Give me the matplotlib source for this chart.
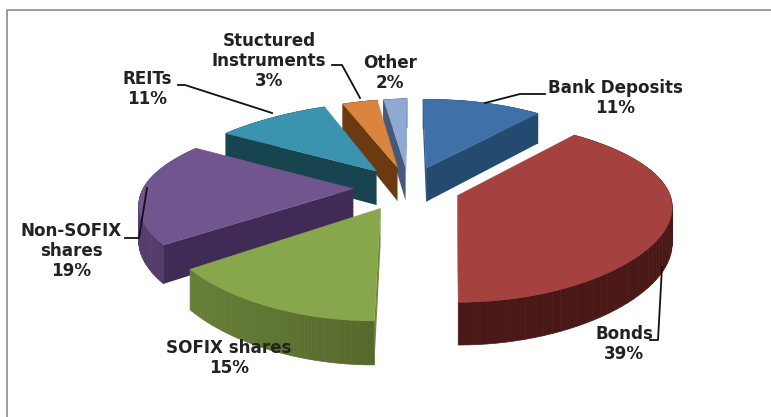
import numpy as np
import matplotlib
matplotlib.use('Agg')
import matplotlib.pyplot as plt
from matplotlib.colors import to_rgb

labels = ['Bank Deposits\n11%', 'Bonds\n39%', 'SOFIX shares\n15%', 'Non-SOFIX\nshares\n19%',
          'REITs\n11%', 'Stuctured\nInstruments\n3%', 'Other\n2%']
values = [11, 39, 15, 19, 11, 3, 2]
top_colors = ['#3F70A8', '#A5413F', '#88A64C', '#71558F', '#3A94B0', '#DB843D', '#8FA9D2']
side_colors = ['#244A70', '#4A1917', '#55692C', '#3F2B55', '#17444F', '#6B3A10', '#45597A']
label_pos = [(615, 98), (624, 344), (229, 358), (71, 251), (147, 89), (269, 61), (390, 73)]
leaders = [[(545, 94), (520, 94), (485, 103)],
           [(662, 267), (658, 340), (650, 340)],
           [],
           [(147, 188), (139, 238), (125, 238)],
           [(178, 85), (185, 85), (272, 113)],
           [(332, 65), (342, 65), (360, 98)],
           []]

# pie geometry, in pixels of the picture
cx, cy = 407, 188
radius = 210
tilt = 0.41
explode = 0.255
persp = 0.167
vp_x = 450
depth = 35


def project(ang, r, mid):
    # ang clockwise from the top, exploded along mid
    # the back left of the original is pulled round a little
    d = np.degrees(ang)
    d = np.where(d < 90, d + 360, d)
    ang = ang - np.radians(6) * np.exp(-((d - 335) / 30) ** 2)
    X = r * np.sin(ang) + explode * np.sin(mid)
    Y = r * np.cos(ang) + explode * np.cos(mid)
    s = 1 / (1 + persp * Y)
    sx = 1 - 0.15 * Y - 0.04 * Y ** 2
    x = vp_x + (cx + radius * X - vp_x) * sx
    y = cy - radius * tilt * Y * s
    return x, y, s


def mix(a, b, f):
    a, b = np.array(to_rgb(a)), np.array(to_rgb(b))
    return tuple(a + (b - a) * f)


fig = plt.figure(figsize=(7.71, 4.17), dpi=100)
ax = fig.add_axes([0, 0, 1, 1])
ax.set_xlim(0, 771)
ax.set_ylim(417, 0)
ax.axis('off')

# frame
ax.plot([7, 7, 771], [417, 10, 10], color='#8c8c8c', lw=1.2)

edges = np.cumsum([0] + values) / sum(values) * 2 * np.pi
slices = []
for i in range(len(values)):
    slices.append((edges[i], edges[i + 1], i))
# back slices first
slices.sort(key=lambda t: -np.cos((t[0] + t[1]) / 2))

for a0, a1, i in slices:
    mid = (a0 + a1) / 2
    arc = np.linspace(a0, a1, 60)
    ax_, ay_, as_ = project(arc, 1.0, mid)
    tx, ty, ts = project(np.array([0.0]), 0.0, mid)

    # rim, lighter towards the left
    for j in range(len(arc) - 1):
        f = 0.45 * max(0, -np.sin(arc[j]))
        xs = [ax_[j], ax_[j + 1], ax_[j + 1], ax_[j]]
        ys = [ay_[j], ay_[j + 1], ay_[j + 1] + depth * as_[j + 1], ay_[j] + depth * as_[j]]
        ax.fill(xs, ys, color=mix(side_colors[i], top_colors[i], f), lw=0.5)

    # cut faces, only the ones turned towards the viewer
    for k, facing in ((0, np.sin(a0)), (-1, -np.sin(a1))):
        if facing > 1e-6:
            continue
        # a face seen almost edge on stays light
        col = mix(side_colors[i], top_colors[i], 0.5) if abs(facing) < 1e-6 else side_colors[i]
        xs = [tx[0], ax_[k], ax_[k], tx[0]]
        ys = [ty[0], ay_[k], ay_[k] + depth * as_[k], ty[0] + depth * ts[0]]
        ax.fill(xs, ys, color=col, lw=0)

    ax.fill(np.r_[tx, ax_], np.r_[ty, ay_], color=top_colors[i], lw=0.3)

for i, lab in enumerate(labels):
    if leaders[i]:
        pts = np.array(leaders[i])
        ax.plot(pts[:, 0], pts[:, 1], color='#111111', lw=1.3, zorder=5)
    ax.text(label_pos[i][0], label_pos[i][1], lab, ha='center', va='center', fontsize=12.1,
            fontweight='bold', family='DejaVu Sans', color='#222222', linespacing=1.12, zorder=6)

fig.savefig('out.png', dpi=100)
